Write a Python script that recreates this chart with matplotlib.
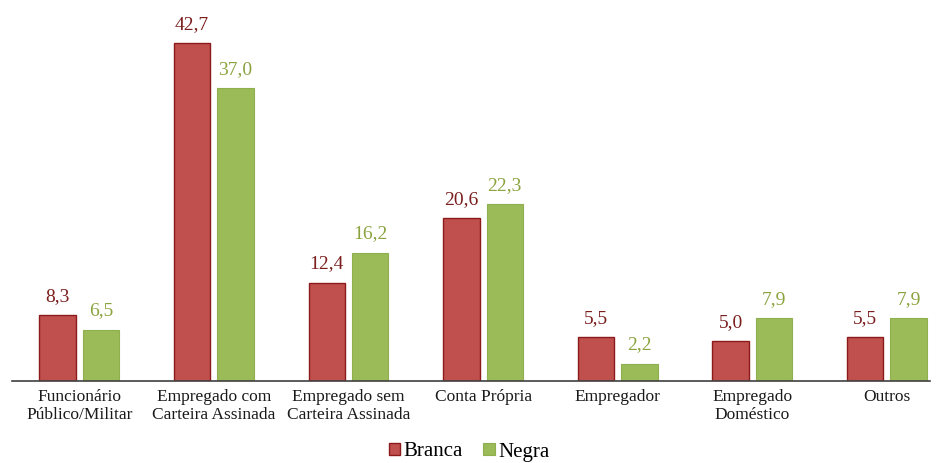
import numpy as np
import matplotlib.pyplot as plt

categorias = ["Funcionário\nPúblico/Militar", "Empregado com\nCarteira Assinada",
              "Empregado sem\nCarteira Assinada", "Conta Própria", "Empregador",
              "Empregado\nDoméstico", "Outros"]
branca = [8.3, 42.7, 12.4, 20.6, 5.5, 5.0, 5.5]
negra = [6.5, 37.0, 16.2, 22.3, 2.2, 7.9, 7.9]

fonte = "Liberation Serif"
plt.rcParams['font.family'] = [fonte, 'DejaVu Serif']

fig = plt.figure(figsize=(9.38, 4.63), dpi=100)
ax = fig.add_axes([12/938, 82/463, 918/938, 361/463])

x = np.arange(len(categorias))
w = 0.271
off = 0.161
cor_b = "#C0504D"
cor_n = "#9BBB59"

b1 = ax.bar(x - off, branca, w, color=cor_b, edgecolor="#8C1A1A", linewidth=1, label="Branca")
b2 = ax.bar(x + off, negra, w, color=cor_n, edgecolor="#8FAF4F", linewidth=0.8, label="Negra")

fmt = lambda v: ("%.1f" % v).replace(".", ",")
for xi, v in zip(x - off, branca):
    ax.text(xi, v + 1.3, fmt(v), ha="center", va="bottom", fontsize=14,
            color="#7A1E1E", family=fonte)
for xi, v in zip(x + off, negra):
    ax.text(xi, v + 1.3, fmt(v), ha="center", va="bottom", fontsize=14,
            color="#8AA33E", family=fonte)

ax.set_xlim(-0.5, 6.32)
ax.set_ylim(0, 45.6)
ax.set_xticks(x)
ax.set_xticklabels(categorias, fontsize=12.5, linespacing=1.15, family=fonte, color="#1a1a1a")
ax.tick_params(axis="x", length=0, pad=6)
ax.set_yticks([])
for s in ["top", "right", "left"]:
    ax.spines[s].set_visible(False)
ax.spines["bottom"].set_color("#404040")
ax.spines["bottom"].set_linewidth(1.2)

fig.legend(handles=[b1, b2], loc="center", bbox_to_anchor=(0.5, 11/463), ncol=2,
           frameon=False, prop={"family": fonte, "size": 15}, handlelength=0.55,
           handleheight=0.55, handletextpad=0.15, columnspacing=1.0, borderpad=0)

fig.savefig("out.png", dpi=100)
